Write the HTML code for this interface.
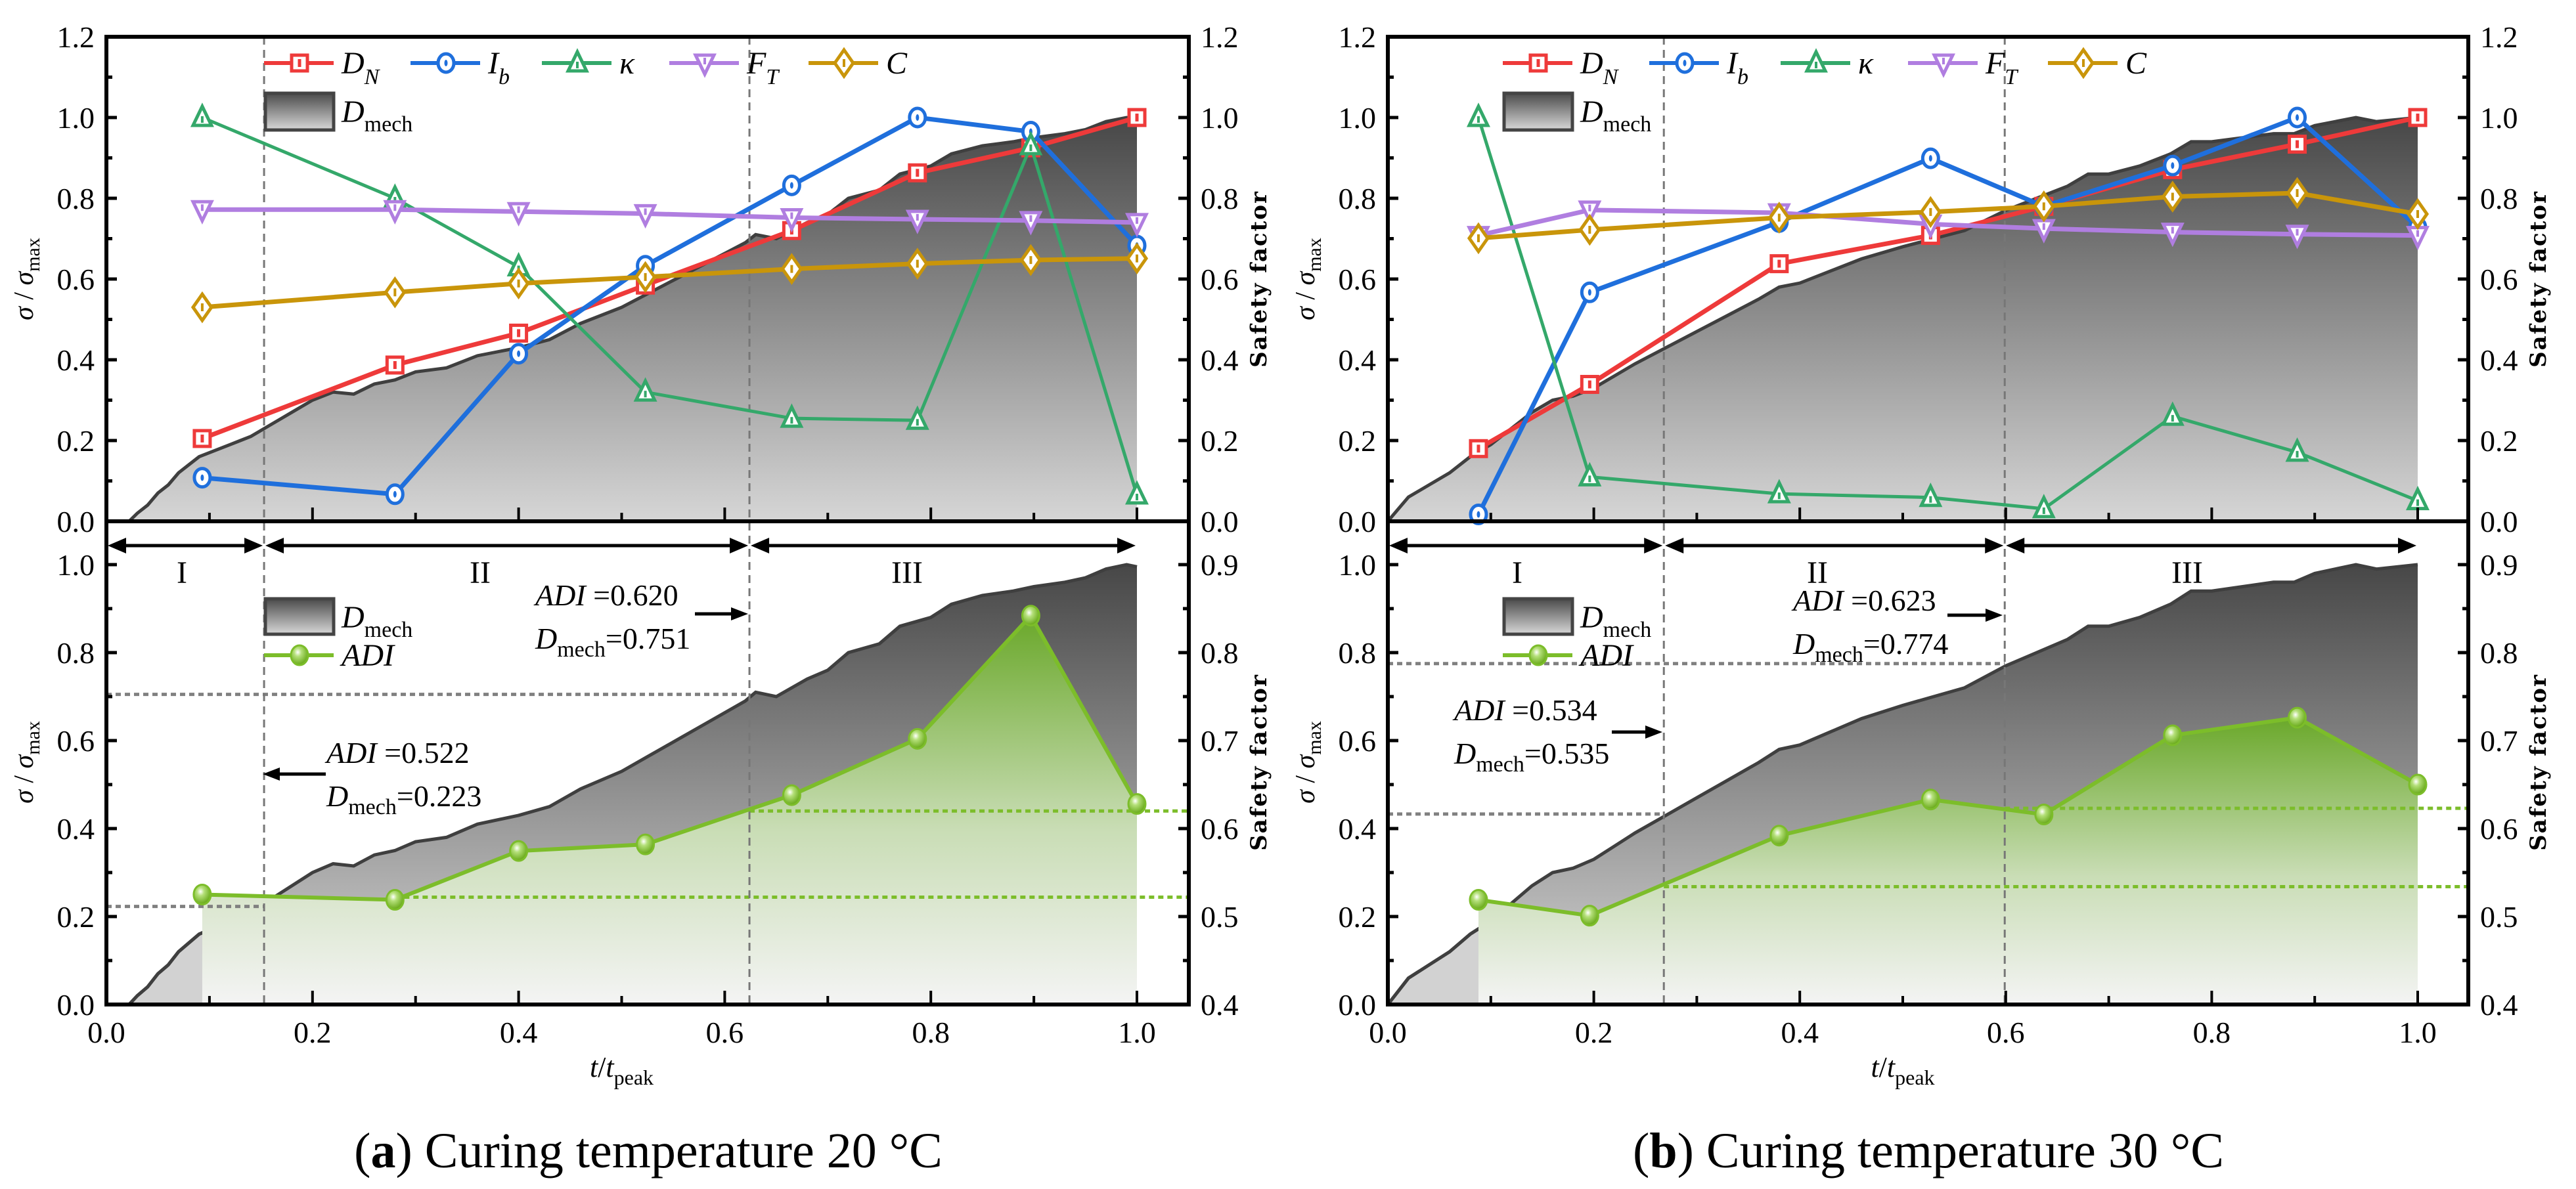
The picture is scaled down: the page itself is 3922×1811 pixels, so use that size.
<!DOCTYPE html>
<html><head><meta charset="utf-8"><style>
html,body{margin:0;padding:0;background:#fff;}
svg{display:block;font-family:"Liberation Serif",serif;}
</style></head><body>
<svg id="svg" width="3922" height="1811" viewBox="0 0 3922 1811" xmlns="http://www.w3.org/2000/svg">
<defs>
<linearGradient id="gMechTop" x1="0" y1="0" x2="0" y2="1"><stop offset="0" stop-color="#474747"/><stop offset="1" stop-color="#d6d6d6"/></linearGradient>
<linearGradient id="gMechBot" x1="0" y1="0" x2="0" y2="1"><stop offset="0" stop-color="#474747"/><stop offset="1" stop-color="#d6d6d6"/></linearGradient>
<linearGradient id="gAdi" x1="0" y1="0" x2="0" y2="1"><stop offset="0" stop-color="#6aa82a"/><stop offset="0.55" stop-color="#c9ddb5"/><stop offset="1" stop-color="#f4f4f4"/></linearGradient>
<linearGradient id="gLeg" x1="0" y1="0" x2="0" y2="1"><stop offset="0" stop-color="#4a4a4a"/><stop offset="1" stop-color="#d8d8d8"/></linearGradient>
<radialGradient id="gBall" cx="0.4" cy="0.35" r="0.6"><stop offset="0" stop-color="#ffffff"/><stop offset="0.35" stop-color="#b5e07a"/><stop offset="1" stop-color="#6fae22"/></radialGradient>
</defs>
</svg>
<script>
// ---------- DATA ----------
const tA = [0.093,0.28,0.40,0.523,0.665,0.787,0.897,1.0];
const dnA = [0.205,0.387,0.466,0.585,0.72,0.863,0.925,1.0];
const ibA = [0.108,0.067,0.415,0.633,0.832,1.0,0.965,0.683];
const kA  = [1.0,0.80,0.63,0.32,0.255,0.25,0.93,0.065];
const ftA = [0.772,0.772,0.767,0.762,0.752,0.748,0.745,0.74];
const cA  = [0.53,0.567,0.589,0.605,0.625,0.638,0.647,0.651];
const adiA = [0.525,0.519,0.5745,0.582,0.638,0.702,0.842,0.628];
const mechTA = [0.022,0.03,0.04,0.05,0.06,0.07,0.08,0.09,0.1,0.11,0.12,0.13,0.14,0.15,0.16,0.18,0.2,0.22,0.24,0.26,0.28,0.3,0.33,0.36,0.4,0.43,0.46,0.5,0.53,0.56,0.59,0.62,0.63,0.65,0.68,0.7,0.72,0.75,0.77,0.8,0.82,0.85,0.88,0.9,0.93,0.95,0.97,0.99,1.0];
const mechVA = [0,0.02,0.04,0.07,0.09,0.12,0.14,0.16,0.17,0.18,0.19,0.2,0.21,0.225,0.24,0.27,0.3,0.32,0.315,0.34,0.35,0.37,0.38,0.41,0.43,0.45,0.49,0.53,0.57,0.61,0.65,0.69,0.71,0.70,0.74,0.76,0.80,0.82,0.86,0.88,0.91,0.93,0.94,0.95,0.96,0.97,0.99,1.0,0.995];

const tB = [0.088,0.196,0.38,0.527,0.637,0.762,0.883,1.0];
const dnB = [0.18,0.339,0.638,0.708,0.78,0.871,0.934,1.0];
const ibB = [0.017,0.567,0.741,0.899,0.78,0.881,1.0,0.728];
const kB  = [1.0,0.11,0.068,0.059,0.031,0.26,0.171,0.051];
const ftB = [0.708,0.771,0.764,0.736,0.725,0.716,0.711,0.708];
const cB  = [0.701,0.722,0.752,0.766,0.78,0.804,0.813,0.761];
const adiB = [0.519,0.501,0.592,0.633,0.616,0.706,0.726,0.65];
const mechTB = [0,0.01,0.02,0.04,0.06,0.08,0.1,0.12,0.14,0.16,0.18,0.2,0.22,0.24,0.27,0.3,0.33,0.36,0.38,0.4,0.43,0.46,0.5,0.53,0.56,0.6,0.63,0.66,0.68,0.7,0.73,0.76,0.78,0.8,0.83,0.86,0.88,0.9,0.92,0.94,0.96,0.98,1.0];
const mechVB = [0,0.03,0.06,0.09,0.12,0.16,0.19,0.23,0.27,0.3,0.31,0.33,0.36,0.39,0.43,0.47,0.51,0.55,0.58,0.59,0.62,0.65,0.68,0.70,0.72,0.77,0.80,0.83,0.86,0.86,0.88,0.91,0.94,0.94,0.95,0.96,0.96,0.98,0.99,1.0,0.99,0.995,1.0];

const topTicks = ["0.0","0.2","0.4","0.6","0.8","1.0","1.2"];
const botLTicks = ["0.0","0.2","0.4","0.6","0.8","1.0"];
const botRTicks = ["0.4","0.5","0.6","0.7","0.8","0.9"];
const xTicks = ["0.0","0.2","0.4","0.6","0.8","1.0"];

const NS="http://www.w3.org/2000/svg";
const svg=document.getElementById('svg');
function el(tag,attrs,parent){const e=document.createElementNS(NS,tag);for(const k in attrs)e.setAttribute(k,attrs[k]);(parent||svg).appendChild(e);return e;}

const TOP0=56, MID=794, BOT=1530;
const yT=v=>MID-v*(MID-TOP0)/1.2;
const yBL=v=>BOT-v*670;
const yBR=v=>BOT-(v-0.4)*1340;

const COL={dn:"#ee3a3a",ib:"#1f6fdc",k:"#34a86a",ft:"#b07ee0",c:"#c9950a",adi:"#7cbd2a"};

function marker(g,type,x,y,col){
  const sw=5;
  let m;
  if(type==='sq'){m=el('rect',{x:x-12,y:y-12,width:24,height:24,fill:'#fff',stroke:col,'stroke-width':sw},g);
    el('rect',{x:x-2.5,y:y-6,width:5,height:12,fill:col},g);}
  else if(type==='ci'){m=el('ellipse',{cx:x,cy:y,rx:12,ry:14,fill:'#fff',stroke:col,'stroke-width':sw},g);
    el('ellipse',{cx:x,cy:y,rx:2.5,ry:5,fill:col},g);}
  else if(type==='tu'){m=el('polygon',{points:`${x},${y-17} ${x+14},${y+12} ${x-14},${y+12}`,fill:'#fff',stroke:col,'stroke-width':sw},g);
    el('rect',{x:x-2,y:y-2,width:4,height:10,fill:col},g);}
  else if(type==='td'){m=el('polygon',{points:`${x},${y+17} ${x+14},${y-12} ${x-14},${y-12}`,fill:'#fff',stroke:col,'stroke-width':sw},g);
    el('rect',{x:x-2,y:y-8,width:4,height:10,fill:col},g);}
  else if(type==='di'){m=el('polygon',{points:`${x},${y-20} ${x+14},${y} ${x},${y+20} ${x-14},${y}`,fill:'#fff',stroke:col,'stroke-width':sw},g);
    el('rect',{x:x-2,y:y-6,width:4,height:12,fill:col},g);}
  else if(type==='ball'){m=el('ellipse',{cx:x,cy:y,rx:13,ry:15,fill:'url(#gBall)',stroke:'#7cbd2a','stroke-width':3},g);}
  
  
}
function txt(s,x,y,attrs,parent){const t=el('text',Object.assign({x:x,y:y},attrs||{}),parent);t.textContent=s;return t;}

function panel(P){
  const X=t=>P.x0+t*P.xs;
  const g=el('g',{});
  
  

  // ---- top panel Dmech area ----
  let d=`M${X(P.mechT[0])},${yT(0)}`;
  P.mechT.forEach((t,i)=>{d+=` L${X(t)},${yT(P.mechV[i])}`;});
  const lastT=P.mechT[P.mechT.length-1];
  const areaT=el('path',{d:d+` L${X(lastT)},${yT(0)} Z`,fill:'url(#gMechTop)'},g);
  
  
  let ld=''; P.mechT.forEach((t,i)=>{ld+=(i?' L':'M')+X(t)+','+yT(P.mechV[i]);});
  el('path',{d:ld,fill:'none',stroke:'#3f3f3f','stroke-width':5},g);

  // ---- bottom panel Dmech area ----
  let d2=`M${X(P.mechT[0])},${yBL(0)}`;
  P.mechT.forEach((t,i)=>{d2+=` L${X(t)},${yBL(P.mechV[i])}`;});
  const areaB=el('path',{d:d2+` L${X(lastT)},${yBL(0)} Z`,fill:'url(#gMechBot)'},g);
  
  
  // light part left of first ADI point
  const cp=el('clipPath',{id:'cl'+P.id},g);
  el('rect',{x:P.plotL,y:TOP0,width:X(P.t[0])-P.plotL,height:BOT-TOP0},cp);
  el('path',{d:d2+` L${X(lastT)},${yBL(0)} Z`,fill:'#d2d2d2','clip-path':`url(#cl${P.id})`},g);
  let ld2=''; P.mechT.forEach((t,i)=>{ld2+=(i?' L':'M')+X(t)+','+yBL(P.mechV[i]);});
  el('path',{d:ld2,fill:'none',stroke:'#3f3f3f','stroke-width':5},g);

  // ADI area
  let ad=`M${X(P.t[0])},${BOT}`;
  P.t.forEach((t,i)=>{ad+=` L${X(t)},${yBR(P.adi[i])}`;});
  ad+=` L${X(P.t[P.t.length-1])},${BOT} Z`;
  const adArea=el('path',{d:ad,fill:'url(#gAdi)'},g);
  
  
  // re-draw light part of mech left region under curve
  el('path',{d:ld2,fill:'none',stroke:'#3f3f3f','stroke-width':5,'clip-path':`url(#cl${P.id})`},g);

  // dotted reference lines
  P.gray.forEach(r=>{el('line',{x1:P.plotL,x2:X(r[1]),y1:yBL(r[0]),y2:yBL(r[0]),stroke:'#808080','stroke-width':5,'stroke-dasharray':'8,6'},g);});
  P.green.forEach(r=>{el('line',{x1:X(r[1]),x2:P.plotR,y1:yBR(r[0]),y2:yBR(r[0]),stroke:'#7cbd2a','stroke-width':5,'stroke-dasharray':'8,6'},g);});

  // region lines
  P.regions.forEach(t=>{el('line',{x1:X(t),x2:X(t),y1:TOP0,y2:BOT,stroke:'#777','stroke-width':3,'stroke-dasharray':'12,8'},g);});

  // series top
  const series=[['dn',P.dn,'sq'],['ib',P.ib,'ci'],['k',P.k,'tu'],['ft',P.ft,'td'],['c',P.c,'di']];
  series.forEach(s=>{
    const sg=el('g',{},g);
    
    
    const pts=P.t.map((t,i)=>X(t)+','+yT(s[1][i])).join(' ');
    el('polyline',{points:pts,fill:'none',stroke:COL[s[0]],'stroke-width':s[0]==='k'?5:7},sg);
    P.t.forEach((t,i)=>marker(sg,s[2],X(t),yT(s[1][i]),COL[s[0]]));
  });
  // ADI series
  const ag=el('g',{},g);
  
  
  el('polyline',{points:P.t.map((t,i)=>X(t)+','+yBR(P.adi[i])).join(' '),fill:'none',stroke:COL.adi,'stroke-width':6},ag);
  P.t.forEach((t,i)=>marker(ag,'ball',X(t),yBR(P.adi[i]),COL.adi));

  // frames
  el('rect',{x:P.plotL,y:TOP0,width:P.plotR-P.plotL,height:BOT-TOP0,fill:'none',stroke:'#000','stroke-width':6},g);
  el('line',{x1:P.plotL,x2:P.plotR,y1:MID,y2:MID,stroke:'#000','stroke-width':6},g);

  // x ticks
  for(let i=0;i<=10;i++){const t=i*0.1,x=X(t),L=(i%2===0)?18:10;
    el('line',{x1:x,x2:x,y1:MID-3,y2:MID-3-L,stroke:'#000','stroke-width':4},g);
    el('line',{x1:x,x2:x,y1:BOT-3,y2:BOT-3-L,stroke:'#000','stroke-width':4},g);}
  xTicks.forEach((s,i)=>{const lb=txt(s,X(i*0.2),1588,{'font-size':46,'text-anchor':'middle'},g);
    });
  // y ticks top
  topTicks.forEach((s,i)=>{const v=i*0.2;
    txt(s,P.plotL-18,yT(v)+16,{'font-size':46,'text-anchor':'end'},g);
    txt(s,P.plotR+18,yT(v)+16,{'font-size':46},g);});
  for(let i=0;i<=12;i++){const v=i*0.1,y=yT(v),L=(i%2===0)?16:9;if(i===0||i===12)continue;
    el('line',{x1:P.plotL,x2:P.plotL+L,y1:y,y2:y,stroke:'#000','stroke-width':5},g);
    el('line',{x1:P.plotR,x2:P.plotR-L,y1:y,y2:y,stroke:'#000','stroke-width':5},g);}
  botLTicks.forEach((s,i)=>{txt(s,P.plotL-18,yBL(i*0.2)+16,{'font-size':46,'text-anchor':'end'},g);});
  for(let i=1;i<=10;i++){const y=yBL(i*0.1),L=(i%2===0)?16:9;el('line',{x1:P.plotL,x2:P.plotL+L,y1:y,y2:y,stroke:'#000','stroke-width':5},g);}
  botRTicks.forEach((s,i)=>{txt(s,P.plotR+18,yBR(0.4+i*0.1)+16,{'font-size':46},g);});
  for(let i=1;i<=10;i++){const y=yBR(0.4+i*0.05),L=(i%2===0)?16:9;if(y<MID)continue;el('line',{x1:P.plotR,x2:P.plotR-L,y1:y,y2:y,stroke:'#000','stroke-width':5},g);}

  // axis titles
  [425,1161].forEach((cy,j)=>{
    const t=el('text',{x:0,y:0,transform:`translate(${P.plotL-112},${cy}) rotate(-90)`,'font-size':42,'text-anchor':'middle'},g);
    t.innerHTML='<tspan font-style="italic">σ</tspan> / <tspan font-style="italic">σ</tspan><tspan font-size="30" dy="10">max</tspan>';
    
    const r=txt('Safety factor',0,0,{transform:`translate(${P.plotR+118},${cy}) rotate(-90)`,'font-size':34,'font-weight':'bold','text-anchor':'middle','font-family':'"DejaVu Serif",serif','letter-spacing':'2'},g);
    
  });
  const xt=el('text',{x:X(0.5),y:1640,'font-size':44,'text-anchor':'middle'},g);
  xt.innerHTML='<tspan font-style="italic">t</tspan>/<tspan font-style="italic">t</tspan><tspan font-size="32" dy="12">peak</tspan>';
  

  // region arrows
  const bounds=[0].concat(P.regions).concat([1.0]);
  for(let i=0;i<3;i++){const a=(i===0?P.plotL:X(bounds[i])),b=X(bounds[i+1]),y=831;
    const ar=el('g',{},g);
    el('line',{x1:a+20,x2:b-20,y1:y,y2:y,stroke:'#000','stroke-width':5},ar);
    el('polygon',{points:`${a+2},${y} ${a+30},${y-12} ${a+30},${y+12}`,fill:'#000'},ar);
    el('polygon',{points:`${b-2},${y} ${b-30},${y-12} ${b-30},${y+12}`,fill:'#000'},ar);}
  ['I','II','III'].forEach((s,i)=>{const l=txt(s,P.roman[i],888,{'font-size':48,'text-anchor':'middle'},g);});

  // annotations
  P.ann.forEach(a=>{
    const t1=el('text',{x:a.x,y:a.y,'font-size':46},g);
    t1.innerHTML=`<tspan font-style="italic">ADI</tspan> =${a.adi}`;
    const t2=el('text',{x:a.x,y:a.y+66,'font-size':46},g);
    t2.innerHTML=`<tspan font-style="italic">D</tspan><tspan font-size="34" dy="12">mech</tspan><tspan dy="-12">=${a.dm}</tspan>`;
    
    const ay=a.ay, x1=a.ax1, x2=a.ax2, dir=x2>x1?1:-1;
    el('line',{x1:x1,x2:x2-dir*20,y1:ay,y2:ay,stroke:'#000','stroke-width':5},g);
    el('polygon',{points:`${x2},${ay} ${x2-dir*26},${ay-10} ${x2-dir*26},${ay+10}`,fill:'#000'},g);
  });

  // legend top
  const lg=el('g',{},g);
  const lab=[['dn','sq','D','N'],['ib','ci','I','b'],['k','tu','κ',''],['ft','td','F','T'],['c','di','C','']];
  lab.forEach((l,i)=>{const x=P.legX[i],y=96;
    const eg=el('g',{},lg);
    el('line',{x1:x,x2:x+106,y1:y,y2:y,stroke:COL[l[0]],'stroke-width':6},eg);
    marker(eg,l[1],x+54,y,COL[l[0]]);
    const t=el('text',{x:x+118,y:y+16,'font-size':48,'font-style':'italic'},eg);
    t.innerHTML=`${l[2]}<tspan font-size="34" dy="16">${l[3]}</tspan>`;
  });
  const lx=P.legX[0];
  el('rect',{x:lx+2,y:142,width:104,height:56,fill:'url(#gLeg)',stroke:'#444','stroke-width':5},lg);
  const lt=el('text',{x:lx+118,y:186,'font-size':48,'font-style':'italic'},lg);
  lt.innerHTML='D<tspan font-size="34" font-style="normal" dy="14">mech</tspan>';
  // legend bottom
  const lg2=el('g',{},g);
  el('rect',{x:lx+2,y:912,width:104,height:54,fill:'url(#gLeg)',stroke:'#444','stroke-width':5},lg2);
  const lt2=el('text',{x:lx+118,y:956,'font-size':48,'font-style':'italic'},lg2);
  lt2.innerHTML='D<tspan font-size="34" font-style="normal" dy="14">mech</tspan>';
  el('line',{x1:lx,x2:lx+106,y1:998,y2:998,stroke:COL.adi,'stroke-width':6},lg2);
  marker(lg2,'ball',lx+54,998,COL.adi);
  txt('ADI',lx+118,1014,{'font-size':48,'font-style':'italic'},lg2);

  // caption
  const cap=el('text',{x:P.capX,y:1778,'font-size':76,'text-anchor':'middle'},g);
  cap.innerHTML=`(<tspan font-weight="bold">${P.letter}</tspan>) Curing temperature ${P.temp} °C`;
  
}

panel({id:'a',name:'panel-a',x0:162,xs:1569,plotL:162,plotR:1810,t:tA,dn:dnA,ib:ibA,k:kA,ft:ftA,c:cA,adi:adiA,
  mechT:mechTA,mechV:mechVA,regions:[0.153,0.624],gray:[[0.223,0.153],[0.705,0.624]],green:[[0.522,0.28],[0.620,0.624]],
  roman:[277,731,1381],legX:[402,625,825,1019,1231],capX:987,letter:'a',temp:20,
  ann:[{x:497,y:1162,adi:'0.522',dm:'0.223',ay:1179,ax1:496,ax2:400},{x:815,y:922,adi:'0.620',dm:'0.751',ay:935,ax1:1058,ax2:1139}]});
panel({id:'b',name:'panel-b',x0:2113,xs:1568,plotL:2113,plotR:3758,t:tB,dn:dnB,ib:ibB,k:kB,ft:ftB,c:cB,adi:adiB,
  mechT:mechTB,mechV:mechVB,regions:[0.268,0.599],gray:[[0.433,0.268],[0.775,0.599]],green:[[0.534,0.268],[0.623,0.599]],
  roman:[2310,2767,3330],legX:[2288,2511,2711,2905,3118],capX:2936,letter:'b',temp:30,
  ann:[{x:2214,y:1097,adi:'0.534',dm:'0.535',ay:1115,ax1:2454,ax2:2531},{x:2730,y:930,adi:'0.623',dm:'0.774',ay:937,ax1:2965,ax2:3049}]});
</script>
</body></html>
